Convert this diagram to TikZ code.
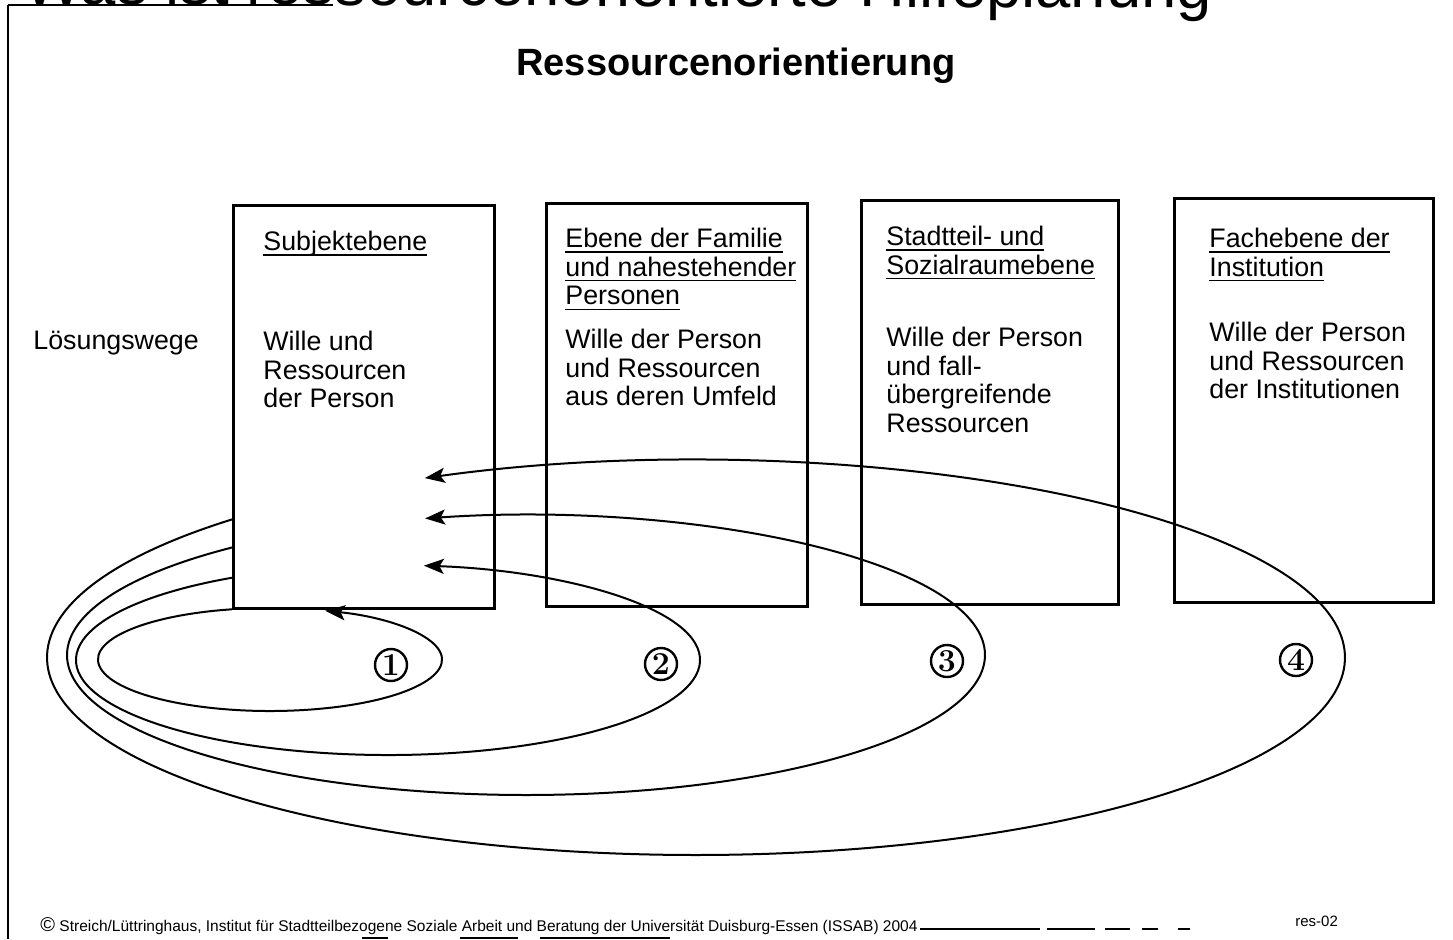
\documentclass[tikz,border=0pt]{standalone}
\usepackage{fontspec}
\setsansfont{Liberation Sans}
\usetikzlibrary{
	arrows.meta,
	calc
}
% underlined heading line
\newcommand{\uln}[1]{\setbox0\hbox{#1}\rlap{\rule[-2.6pt]{\wd0}{0.8pt}}\box0}

\begin{document}
\begin{tikzpicture}[x=0.5pt, y=-0.5pt,
    levelbox/.style={line width=1.5pt},
    boxtext/.style={anchor=north west, inner sep=0pt, align=left, font=\sffamily\fontsize{13.4}{14.4}\selectfont},
    looparrow/.style={line width=1pt, -{Stealth[length=10pt, width=7.5pt, inset=2.2pt]}},
    numcirc/.style={circle, draw, line width=1.2pt, minimum size=16pt, inner sep=0pt, font=\rmfamily\bfseries\fontsize{16}{16}\selectfont}]
    \useasboundingbox (0,0) rectangle (1453,939);
    % Definitions
    \coordinate (C1) at (270,659.5);  % centre of loop 1
    \coordinate (C2) at (388,660);    % centre of loop 2
    \coordinate (C3) at (526,655);    % centre of loop 3
    \coordinate (C4) at (696,657.5);  % centre of loop 4
    % Frame and title
    \draw[line width=0.6pt] (8,5) -- (333,5);
    \draw[line width=0.6pt] (8,5) -- (8,939);
    \node[anchor=base west, inner sep=0pt, rotate=-0.2, font=\sffamily\fontsize{31.7}{32}\selectfont] (title) at (23,4) {Was ist ressourcenorientierte Hilfeplanung};
    \node[anchor=base, inner sep=0pt, font=\sffamily\bfseries\fontsize{19}{19}\selectfont] (heading) at (736,75) {Ressourcenorientierung};
    % Boxes
    \draw[levelbox] (233,205) rectangle (494,608);
    \draw[levelbox] (546,203) rectangle (807,606);
    \draw[levelbox] (861,200) rectangle (1118,604);
    \draw[levelbox] (1174,198) rectangle (1433,602);
    % Texts
    \node[boxtext] (wege)     at (33,330.5)    {Lösungswege};
    \node[boxtext] (subjhead) at (263,230.5)   {\uln{Subjektebene}};
    \node[boxtext] (subjbody) at (263,330.5)   {Wille und\\Ressourcen\\der Person};
    \node[boxtext] (famhead)  at (565,227.5)   {\uln{Ebene der Familie}\\\uln{und nahestehender}\\\uln{Personen}};
    \node[boxtext] (fambody)  at (565,328.5)   {Wille der Person\\und Ressourcen\\aus deren Umfeld};
    \node[boxtext] (sozhead)  at (886,225.5)   {\uln{Stadtteil- und}\\\uln{Sozialraumebene}};
    \node[boxtext] (sozbody)  at (886,326.5)   {Wille der Person\\und fall-\\übergreifende\\Ressourcen};
    \node[boxtext] (insthead) at (1209,227.5)  {\uln{Fachebene der}\\\uln{Institution}};
    \node[boxtext] (instbody) at (1209,321.5)  {Wille der Person\\und Ressourcen\\der Institutionen};
    % Loops (Loesungswege)
    \draw[looparrow] ($(C1)+(257.2:172 and 51.5)$) arc[start angle=257.2, end angle=-71.3,  x radius=172, y radius=51.5];
    \draw[looparrow] ($(C2)+(240:312 and 95)$)    arc[start angle=240,   end angle=-83.4,  x radius=312, y radius=95];
    \draw[looparrow] ($(C3)+(230.2:459 and 140)$) arc[start angle=230.2, end angle=-102.7, x radius=459, y radius=140];
    \draw[looparrow] ($(C4)+(224.4:649 and 197.5)$) arc[start angle=224.4, end angle=-114.7, x radius=649, y radius=197.5];
    % Numbers
    \node[numcirc] (n1) at (391,665) {1};
    \node[numcirc] (n2) at (661,664) {2};
    \node[numcirc] (n3) at (947,661) {3};
    \node[numcirc] (n4) at (1296,660) {4};
    % Footer
    \node[anchor=base west, inner sep=0pt, font=\sffamily\fontsize{7.75}{8}\selectfont] (footer) at (40,931)
        {{\fontsize{10}{10}\selectfont\textcopyright}\ Streich/Lüttringhaus, Institut für Stadtteilbezogene Soziale Arbeit und Beratung der Universität Duisburg-Essen (ISSAB) 2004};
    \node[anchor=base west, inner sep=0pt, font=\sffamily\fontsize{7.5}{8}\selectfont] (resno) at (1295,926) {res-02};
    \draw[line width=0.8pt] (920,929) -- (1040,929);
    \draw[line width=0.8pt] (1047,929) -- (1095,929);
    \draw[line width=0.8pt] (1105,929) -- (1130,929);
    \draw[line width=0.8pt] (1142,929) -- (1158,929);
    \draw[line width=0.8pt] (1178,929) -- (1190,929);
    \draw[line width=1pt] (362,938) -- (388,938);
    \draw[line width=1pt] (460,938) -- (518,938);
    \draw[line width=1pt] (540,938) -- (670,938);
\end{tikzpicture}
\end{document}
